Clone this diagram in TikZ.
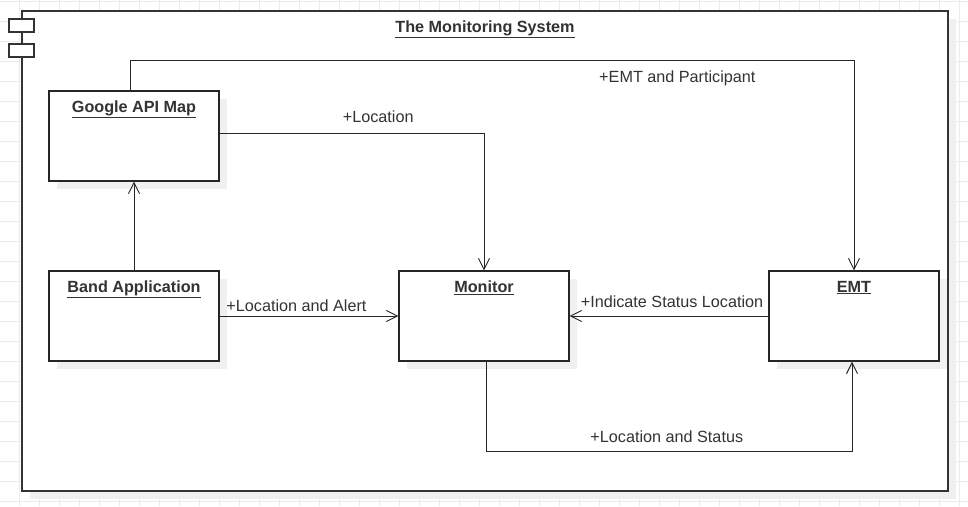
\documentclass[tikz,border=0pt]{standalone}
\usepackage{fontspec}
\setmainfont{Liberation Sans}
\usepackage{tikz}
\usetikzlibrary{positioning, calc, arrows.meta, shadows}

\begin{document}
\begin{tikzpicture}[x=1pt, y=-1pt, >={Straight Barb[length=11pt, width=11pt]}, line width=0.95pt, draw=black!85,
		every node/.style={font=\fontsize{16.2pt}{19pt}\selectfont, text=black!80},
		flat shadow/.style={drop shadow={shadow xshift=8pt, shadow yshift=-8pt, fill=black!6, opacity=1}},
		comp/.style={draw=black!85, fill=white, line width=1.2pt, inner sep=0pt, minimum width=170pt, minimum height=90pt, flat shadow},
		frame/.style={draw=black!80, fill=white, line width=1.2pt, inner sep=0pt, minimum width=926pt, minimum height=480pt, flat shadow},
		ttl/.style={font=\fontsize{16.2pt}{19pt}\selectfont\bfseries, inner sep=0pt, anchor=north, yshift=-10pt},
		msg/.style={inner sep=2pt},
		gridline/.style={draw=black!8, line width=0.8pt} ]
		\useasboundingbox (0,0) rectangle (968,506);

		%grid of the canvas
		\foreach \gx in {19,39,...,959} \draw[gridline] (\gx,0) -- (\gx,506);
		\foreach \gy in {1,21,...,501} \draw[gridline] (0,\gy) -- (968,\gy);

		\node[frame, label={[ttl]north:\underline{The Monitoring System}}]	(sys)  at (485,251) {};
		\draw[draw=black!80, line width=1.2pt, fill=white] (9,19) rectangle (34,32) (9,44) rectangle (34,57);

		\node[comp, label={[ttl]north:\underline{Google API Map}}]		(gmap) at (134,136) {};
		\node[comp, label={[ttl]north:\underline{Band Application}}]	(band) at (134,316) {};
		\node[comp, label={[ttl]north:\underline{Monitor}}]				(mon)  at (484,316) {};
		\node[comp, label={[ttl]north:\underline{EMT}}]					(emt)  at (854,316) {};

		%Connectors:
		\path[->, draw=black!85] (band) edge (gmap)
		(band) edge 	node[msg, pos=0.43, above=2pt]  {+Location and Alert} (mon)
		(emt)  edge 	node[msg, pos=0.485, above=6pt] {+Indicate Status Location} (mon);
		\draw[->] ([yshift=3pt]gmap.east) -| node[msg, pos=0.3, above=8pt] {+Location} (mon.north);
		\draw[->] ([xshift=-4pt]gmap.north) -- ++(0,-30) -| node[msg, pos=0.378, below=8pt] {+EMT and Participant} (emt.north);
		\draw[->] ([xshift=2pt]mon.south) -- ++(0,90) -| node[msg, pos=0.247, above=6pt] {+Location and Status} ([xshift=-2pt]emt.south);
	\end{tikzpicture}
\end{document}
